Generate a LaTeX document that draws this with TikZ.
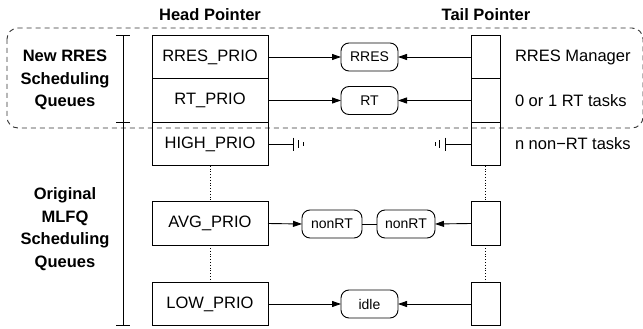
\documentclass[tikz,border=0pt]{standalone}
\usepackage{fontspec}
\setmainfont{Liberation Sans}
\usetikzlibrary{arrows.meta}
\begin{document}
\begin{tikzpicture}[x=1pt,y=-1pt,line width=0.9pt,
  every node/.style={inner sep=0pt,outer sep=0pt},
  headcell/.style={draw,minimum width=116pt,minimum height=43.5pt,font=\fontsize{16.5}{19}\selectfont},
  tailcell/.style={draw,minimum width=29pt,minimum height=43.5pt},
  qnode/.style={draw,rounded corners=8pt,minimum width=57pt,minimum height=28pt,font=\fontsize{14}{16}\selectfont},
  hdr/.style={font=\bfseries\fontsize{16.5}{19}\selectfont},
  grp/.style={font=\bfseries\fontsize{16.5}{22.5}\selectfont,align=center},
  side/.style={anchor=west,font=\fontsize{16.5}{19}\selectfont},
  arr/.style={-{Triangle[length=9pt,width=6pt]}},
  dotline/.style={dotted,line width=0.8pt}]
\useasboundingbox (0,0) rectangle (643,329);
% dashed group box
\draw[dashed,dash pattern=on 5pt off 4pt,rounded corners=11pt,black!80] (7,28) rectangle (643,128);
% headers
\node[hdr] (hh) at (210,15) {Head Pointer};
\node[hdr] (th) at (486,15) {Tail Pointer};
% group labels
\node[grp] (g1) at (65,80) {New RRES\\Scheduling\\Queues};
\node[grp] (g2) at (65,229) {Original\\MLFQ\\Scheduling\\Queues};
% bracket
\coordinate (bt) at (123,35.5);
\coordinate (bm) at (123,122);
\coordinate (bb) at (123,325.5);
\draw (bt) -- (bb);
\foreach \c in {bt,bm,bb} \draw ([xshift=-7pt]\c) -- ([xshift=7pt]\c);
% head cells
\node[headcell] (h1) at (210,57) {RRES\_PRIO};
\node[headcell] (h2) at (210,100.5) {RT\_PRIO};
\node[headcell] (h3) at (210,144) {HIGH\_PRIO};
\node[headcell] (h4) at (210,223.5) {AVG\_PRIO};
\node[headcell] (h5) at (210,304) {LOW\_PRIO};
% tail cells
\node[tailcell] (t1) at (485.5,57) {};
\node[tailcell] (t2) at (485.5,100.5) {};
\node[tailcell] (t3) at (485.5,144) {};
\node[tailcell] (t4) at (485.5,223.5) {};
\node[tailcell] (t5) at (485.5,304) {};
% dotted connectors
\draw[dotline] (h3.south) -- (h4.north);
\draw[dotline] (h4.south) -- (h5.north);
\draw[dotline] (t3.south) -- (t4.north);
\draw[dotline] (t4.south) -- (t5.north);
% queue nodes
\node[qnode] (q1) at (369.5,57) {RRES};
\node[qnode] (q2) at (369.5,100.5) {RT};
\node[qnode,minimum width=60pt] (n1) at (332,224) {nonRT};
\node[qnode,minimum width=58pt] (n2) at (406,224) {nonRT};
\node[qnode] (q5) at (369.5,304) {idle};
% arrows
\draw[arr] (h1.east) -- (q1.west);
\draw[arr] (t1.west) -- (q1.east);
\draw[arr] (h2.east) -- (q2.west);
\draw[arr] (t2.west) -- (q2.east);
\draw[arr] (h4.east) -- (n1.west);
\draw (n1.east) -- (n2.west);
\draw[arr] (t4.west) -- (n2.east);
\draw[arr] (h5.east) -- (q5.west);
\draw[arr] (t5.west) -- (q5.east);
% null (ground) terminators
\coordinate (gl) at (293,144);
\coordinate (gr) at (445,144);
\draw (h3.east) -- (gl);
\draw (gl) ++(0,-6.5) -- ++(0,13);
\draw (gl) ++(5.5,-4) -- ++(0,8);
\draw (gl) ++(10,-2) -- ++(0,4);
\draw (t3.west) -- (gr);
\draw (gr) ++(0,-6.5) -- ++(0,13);
\draw (gr) ++(-5.5,-4) -- ++(0,8);
\draw (gr) ++(-10,-2) -- ++(0,4);
% side labels
\node[side] (s1) at (515,57) {RRES Manager};
\node[side] (s2) at (515,100.5) {0 or 1 RT tasks};
\node[side] (s3) at (515,144) {n non−RT tasks};
\end{tikzpicture}
\end{document}
